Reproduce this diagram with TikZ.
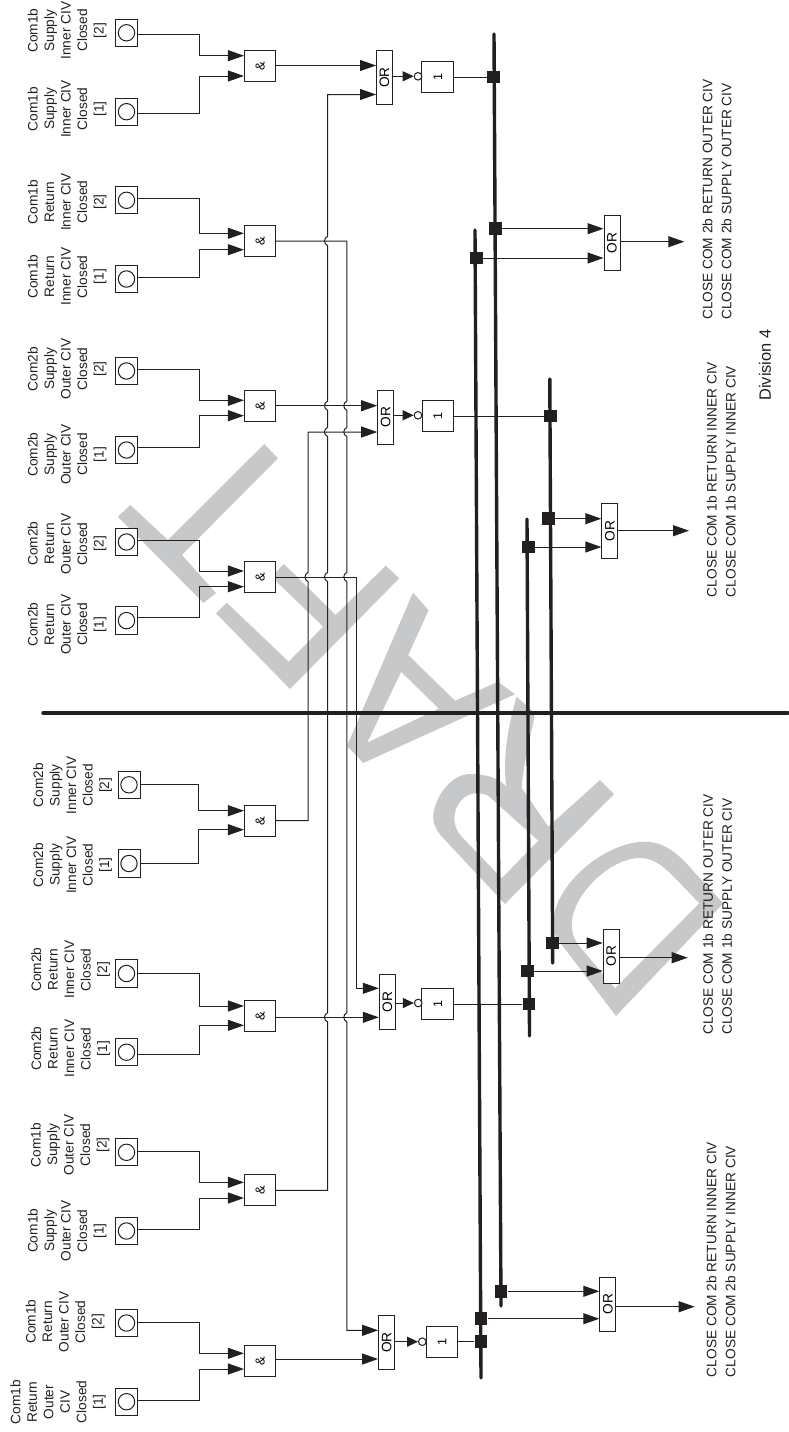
\documentclass[tikz,border=0pt]{standalone}
\usepackage{fontspec}
\usepackage{graphicx}
\setmainfont{Liberation Sans}
\usetikzlibrary{arrows.meta,calc}
\definecolor{ink}{HTML}{231F20}
\definecolor{wmgrey}{HTML}{C7C8CA}
\newcommand\wj[2]{-- (#1,#2-4.5) .. controls (#1-4,#2-3) and (#1-4,#2+3) .. (#1,#2+4.5)}
\tikzset{
  wire/.style={draw=ink,line width=1pt},
  bus/.style={draw=ink,line width=3.4pt,line cap=round},
  bigtip/.style={-{Triangle[length=16pt,width=11pt]}},
  bigtipstart/.style={{Triangle[length=16pt,width=11pt]}-},
  smalltip/.style={-{Triangle[length=11pt,width=10pt]}},
  inbox/.style={draw=ink,line width=1pt,fill=white,minimum width=22pt,minimum height=27.3pt,inner sep=0pt,
    path picture={\draw[ink,line width=1pt] (path picture bounding box.center) circle (8.2pt);}},
  andbox/.style={draw=ink,line width=1pt,fill=white,minimum width=31.5pt,minimum height=31pt,inner sep=0pt,font=\fontsize{13}{15}\selectfont},
  onebox/.style={andbox,font=\fontsize{12.5}{15}\selectfont},
  orbox/.style={draw=ink,line width=1pt,fill=white,minimum width=16pt,minimum height=54.4pt,inner sep=0pt,font=\fontsize{13.7}{15}\selectfont},
  notc/.style={circle,draw=ink,line width=1pt,fill=white,minimum size=7.6pt,inner sep=0pt},
  junct/.style={fill=ink,minimum size=12.7pt,inner sep=0pt},
  lbl/.style={rotate=90,align=center,text=ink,inner sep=0pt,font=\fontsize{13.7}{16.5}\selectfont},
  cmd/.style={rotate=90,align=left,anchor=west,text=ink,inner sep=0pt,font=\fontsize{13.7}{19}\selectfont},
  divlbl/.style={rotate=90,text=ink,inner sep=0pt,font=\fontsize{16.4}{19}\selectfont},
}
\begin{document}
\begin{tikzpicture}[x=1pt,y=-1pt]
\useasboundingbox (0,0) rectangle (788,1432);
% watermark
\fill[wmgrey] (117.9,516.7) -- (130.4,505) -- (167.9,540) -- (264.3,444) -- (277.9,458.3) -- (182,555) -- (216,593) -- (203.6,603) -- cycle;
\fill[wmgrey] (226.8,602.7) -- (288.6,661.7) -- (323.2,626.7) -- (271.4,576.7) -- (283.9,564) -- (335.7,615) -- (385.7,565.7) -- (399.3,578.3) -- (290,689) -- (216,613.3) -- cycle;
\fill[wmgrey,even odd rule] (347,746) -- (363.3,762.9) -- (515,694.3) -- (498,681.8) -- (455,700.7) -- (408.2,655) -- (428.6,610.4) -- (413,592.5) -- cycle
  (401.2,671.8) -- (438.8,708.6) -- (367.3,742.5) -- cycle;
\fill[wmgrey,even odd rule] (516.7,696.7) -- (535,713.3) .. controls (530,740) and (523,765) .. (521.7,788) -- (548.3,826.7) -- (600,780) -- (614,794) -- (505,904) -- (445,840) .. controls (437,832) and (433.3,825) .. (433.3,816.7) .. controls (433.3,800) and (450,774) .. (470,774) .. controls (490,774) and (500,780) .. (506.7,786.7) .. controls (503,770) and (505,735) .. (516.7,696.7) -- cycle
  (538.3,840.7) -- (501.7,878.3) -- (461.7,836.7) .. controls (457,832) and (454.3,825) .. (454.3,818.3) .. controls (454.3,805) and (465,793.3) .. (475,793.3) .. controls (482,793.3) and (487,794) .. (490,797.3) -- cycle;
\fill[wmgrey,even odd rule] (616,1016) -- (723.3,903.3) -- (695,873) .. controls (680,855) and (665,841.7) .. (645,841.7) .. controls (605,841.7) and (553.3,885) .. (553.3,923.3) .. controls (553.3,932) and (557,940) .. (562,945) -- cycle
  (615,988.3) -- (699.3,903.3) -- (677,880) .. controls (665,868) and (655,858) .. (640,858) .. controls (610,858) and (571.7,895) .. (571.7,925) .. controls (571.7,935) and (576,942) .. (580,947) -- cycle;
% buses
\coordinate (b1t) at (494,34); \coordinate (b1e) at (501,1306);
\coordinate (b2t) at (475,230); \coordinate (b2e) at (481,1378);
\coordinate (b3t) at (549.8,379); \coordinate (b3e) at (552.7,963);
\coordinate (b4t) at (527,519); \coordinate (b4e) at (529.5,1036);
\coordinate (divl) at (43,713); \coordinate (divr) at (788,713);
\draw[bus] (b1t) -- (b1e);
\draw[bus] (b2t) -- (b2e);
\draw[bus] (b3t) -- (b3e);
\draw[bus] (b4t) -- (b4e);
\draw[bus] (divl) -- (divr);
% input groups: id / box x / box y [2] / box y [1] / wire y [2] / wire y [1] / arrow y [2] / arrow y [1] / gate y / out y / bend x
\foreach \id/\bx/\ya/\yb/\wa/\wb/\aa/\ab/\ay/\oy/\bend in {
  1/126.5/32.8/111.7/34/113/55.7/76/65.7/65.5/199.5,
  2/126.5/200.3/279/198.3/277.7/233.3/249.7/241.2/241/199.5,
  3/126.5/371/450/369.3/447/400.3/415.7/406.2/405.7/199.3,
  4/126.5/542/620.6/540/617.7/571/586.7/576.8/577/199.3,
  5/129/784.8/863.5/784.7/863.3/810.7/829.7/820.8/820.7/198.7,
  6/126.5/973.5/1052.2/973/1054.3/1006/1025.3/1016.3/1017.3/199.3,
  7/126.5/1152.3/1231/1151.3/1229.3/1182.3/1198/1190.3/1190.3/199.3,
  8/126.5/1323/1401.7/1322.3/1400/1353.3/1369/1361.2/1359/199.3}{
  \node[inbox] (in\id a) at (\bx,\ya) {};
  \node[inbox] (in\id b) at (\bx,\yb) {};
  \node[andbox] (and\id) at (260.2,\ay) {\rotatebox{90}{\&}};
  \coordinate (w\id a) at (\bend,\wa);
  \coordinate (w\id b) at (\bend,\wb);
  \coordinate (t\id a) at (244,\aa);
  \coordinate (t\id b) at (244,\ab);
  \coordinate (o\id) at (276,\oy);
  \draw[wire,bigtip] (in\id a.east |- w\id a) -- (w\id a) -- (w\id a |- t\id a) -- (and\id.west |- t\id a);
  \draw[wire,bigtip] (in\id b.east |- w\id b) -- (w\id b) -- (w\id b |- t\id b) -- (and\id.west |- t\id b);
}
% labels
\node[lbl] (l1a) at (67,30.5) {Com1b\\Supply\\Inner CIV\\Closed\\{[2]}};
\node[lbl] (l1b) at (67,109) {Com1b\\Supply\\Inner CIV\\Closed\\{[1]}};
\node[lbl] (l2a) at (67,202) {Com1b\\Return\\Inner CIV\\Closed\\{[2]}};
\node[lbl] (l2b) at (67,276.7) {Com1b\\Return\\Inner CIV\\Closed\\{[1]}};
\node[lbl] (l3a) at (67,369) {Com2b\\Supply\\Outer CIV\\Closed\\{[2]}};
\node[lbl] (l3b) at (67,454.5) {Com2b\\Supply\\Outer CIV\\Closed\\{[1]}};
\node[lbl] (l4a) at (67,543.7) {Com2b\\Return\\Outer CIV\\Closed\\{[2]}};
\node[lbl] (l4b) at (67,624.5) {Com2b\\Return\\Outer CIV\\Closed\\{[1]}};
\node[lbl] (l5a) at (72.7,785.3) {Com2b\\Supply\\Inner CIV\\Closed\\{[2]}};
\node[lbl] (l5b) at (72.7,865) {Com2b\\Supply\\Inner CIV\\Closed\\{[1]}};
\node[lbl] (l6a) at (70.7,969.7) {Com2b\\Return\\Inner CIV\\Closed\\{[2]}};
\node[lbl] (l6b) at (70.7,1048.7) {Com2b\\Return\\Inner CIV\\Closed\\{[1]}};
\node[lbl] (l7a) at (70,1145) {Com1b\\Supply\\Outer CIV\\Closed\\{[2]}};
\node[lbl] (l7b) at (67,1230.8) {Com1b\\Supply\\Outer CIV\\Closed\\{[1]}};
\node[lbl] (l8a) at (65,1321.7) {Com1b\\Return\\Outer CIV\\Closed\\{[2]}};
\node[lbl] (l8b) at (58,1402) {Com1b\\Return\\Outer\\CIV\\Closed\\{[1]}};
% OR + inverter + 1
\node[orbox] (orA) at (384.5,77.7) {\rotatebox{90}{OR}};
\node[orbox] (orB) at (385.7,417.2) {\rotatebox{90}{OR}};
\node[orbox] (orC) at (387.3,1001.8) {\rotatebox{90}{OR}};
\node[orbox] (orD) at (386.6,1342.5) {\rotatebox{90}{OR}};
\node[orbox] (orE) at (612,242.8) {\rotatebox{90}{OR}};
\node[orbox] (orF) at (609.8,531) {\rotatebox{90}{OR}};
\node[orbox] (orG) at (611.2,956.2) {\rotatebox{90}{OR}};
\node[orbox] (orH) at (607.8,1304.2) {\rotatebox{90}{OR}};
\node[onebox] (oneA) at (437.7,76.8) {\rotatebox{90}{1}};
\node[onebox] (oneB) at (437.8,415.8) {\rotatebox{90}{1}};
\node[onebox] (oneC) at (437.7,1003.8) {\rotatebox{90}{1}};
\node[onebox] (oneD) at (442,1341.7) {\rotatebox{90}{1}};
\node[notc] (notA) at (418,76.3) {};
\node[notc] (notB) at (418,415.3) {};
\node[notc] (notC) at (418.2,1003) {};
\node[notc] (notD) at (422.3,1341.7) {};
\draw[wire,smalltip] (orA.east |- notA) -- (notA.west);
\draw[wire,smalltip] (orB.east |- notB) -- (notB.west);
\draw[wire,smalltip] (orC.east |- notC) -- (notC.west);
\draw[wire,smalltip] (orD.east |- notD) -- (notD.west);
% junctions
\node[junct] (sqA) at (493.7,77) {};
\node[junct] (sqB) at (550.3,416) {};
\node[junct] (sqC) at (529,1004) {};
\node[junct] (sqD) at (481,1341.7) {};
\node[junct] (sqE1) at (495.7,228.7) {};
\node[junct] (sqE2) at (476.3,258) {};
\node[junct] (sqF1) at (548.7,518.7) {};
\node[junct] (sqF2) at (528.7,547) {};
\node[junct] (sqG1) at (552.3,943) {};
\node[junct] (sqG2) at (527.3,971) {};
\node[junct] (sqH1) at (501,1291.3) {};
\node[junct] (sqH2) at (481,1318.7) {};
\draw[wire] (oneA.east |- sqA) -- (sqA.west);
\draw[wire] (oneB.east |- sqB) -- (sqB.west);
\draw[wire] (oneC.east |- sqC) -- (sqC.west);
\draw[wire] (oneD.east |- sqD) -- (sqD.west);
\draw[wire,bigtip] (sqE1.east) -- (orE.west |- sqE1);
\draw[wire,bigtip] (sqE2.east) -- (orE.west |- sqE2);
\draw[wire,bigtip] (sqF1.east) -- (orF.west |- sqF1);
\draw[wire,bigtip] (sqF2.east) -- (orF.west |- sqF2);
\draw[wire,bigtip] (sqG1.east) -- (orG.west |- sqG1);
\draw[wire,bigtip] (sqG2.east) -- (orG.west |- sqG2);
\draw[wire,bigtip] (sqH1.east) -- (orH.west |- sqH1);
\draw[wire,bigtip] (sqH2.east) -- (orH.west |- sqH2);
% outputs
\coordinate (tipE) at (684.3,241.7);
\coordinate (tipF) at (689,530.7);
\coordinate (tipG) at (687.7,957.7);
\coordinate (tipH) at (694.7,1306.7);
\draw[wire,bigtip] (orE.east |- tipE) -- (tipE);
\draw[wire,bigtip] (orF.east |- tipF) -- (tipF);
\draw[wire,bigtip] (orG.east |- tipG) -- (tipG);
\draw[wire,bigtip] (orH.east |- tipH) -- (tipH);
% gate outputs
\draw[wire,bigtip] (o1) -- (orA.west |- o1);
\draw[wire,bigtip] (o3) -- (orB.west |- o3);
\draw[wire,bigtip] (o6) -- (orC.west |- o6);
\draw[wire,bigtip] (o8) -- (orD.west |- o8);
% long risers
\coordinate (r1) at (327.5,94.5);
\coordinate (r2) at (346.8,1330.3);
\coordinate (r3) at (308,432);
\coordinate (r4) at (356.4,988.3);
\draw[wire,bigtipstart] (orA.west |- r1) -- (r1) \wj{327.5}{241} \wj{327.5}{405.7} \wj{327.5}{432} \wj{327.5}{577} \wj{327.5}{1017.3} -- (r1 |- o7) -- (o7);
\draw[wire,bigtip] (o2) -- (r2 |- o2) \wj{346.8}{405.7} \wj{346.8}{432} \wj{346.8}{577} \wj{346.8}{1017.3} -- (r2) -- (orD.west |- r2);
\draw[wire,bigtipstart] (orB.west |- r3) -- (r3) \wj{308}{577} -- (r3 |- o5) -- (o5);
\draw[wire,bigtip] (o4) -- (r4 |- o4) -- (r4) -- (orC.west |- r4);
% right-hand texts
\node[cmd] (tE) at (717,320) {CLOSE COM 2b RETURN OUTER CIV\\CLOSE COM 2b SUPPLY OUTER CIV};
\node[cmd] (tF) at (721.3,597.3) {CLOSE COM 1b RETURN INNER CIV\\CLOSE COM 1b SUPPLY INNER CIV};
\node[cmd] (tG) at (717.5,1035) {CLOSE COM 1b RETURN OUTER CIV\\CLOSE COM 1b SUPPLY OUTER CIV};
\node[cmd] (tH) at (721,1377.3) {CLOSE COM 2b RETURN INNER CIV\\CLOSE COM 2b SUPPLY INNER CIV};
\node[divlbl] (dv) at (765,365) {Division 4};
\end{tikzpicture}
\end{document}
